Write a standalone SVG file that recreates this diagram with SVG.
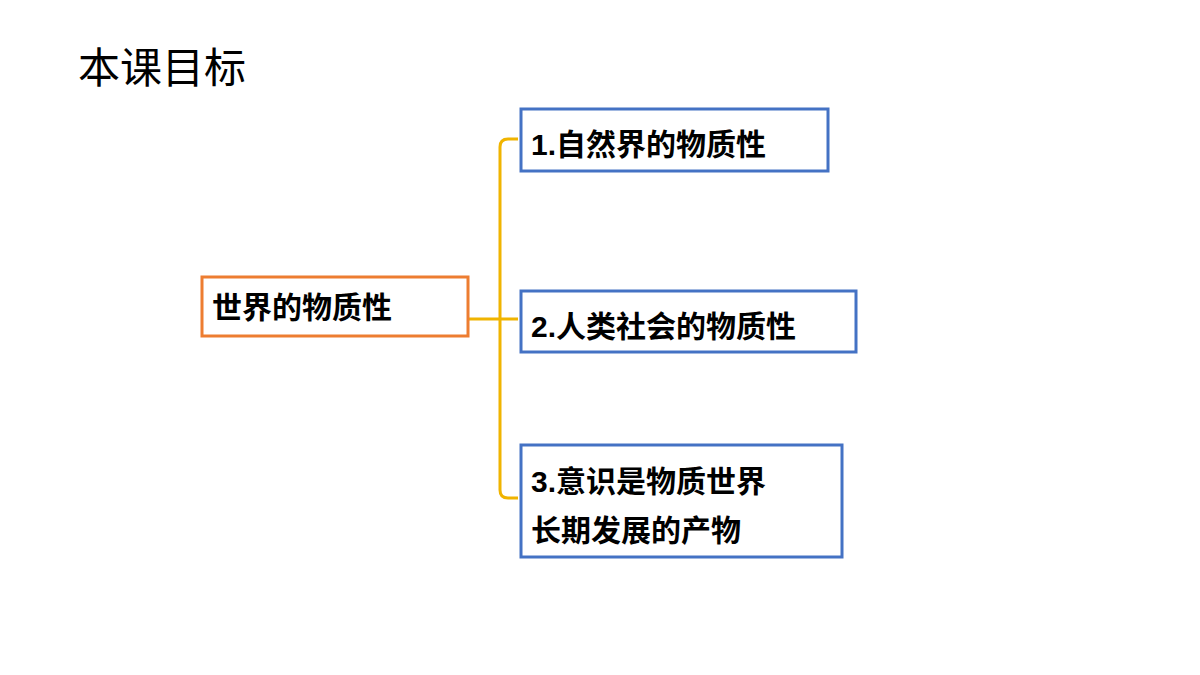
<svg xmlns="http://www.w3.org/2000/svg" width="1200" height="675" viewBox="0 0 1200 675">
<style>
.t{font-family:"Liberation Sans","Noto Sans CJK SC",sans-serif;font-weight:bold;font-size:30px;fill:#000}
.b{fill:#fff;stroke:#4472C4;stroke-width:3}
.c{fill:none;stroke:#F0B400;stroke-width:3}
</style>
<rect width="1200" height="675" fill="#fff"/>
<text x="78" y="83" style="font-family:'Liberation Sans','Noto Sans CJK SC',sans-serif;font-size:42px">本课目标</text>
<g id="connectors">
<path class="c" d="M468 319 H500 M518 139 H508 Q500 139 500 147 V490 Q500 498 508 498 H518 M500 319 H518"/>
</g>
<g id="root"><rect x="202" y="277" width="266" height="59" fill="#fff" stroke="#ED7D31" stroke-width="3"/><text class="t" x="212" y="318">世界的物质性</text></g>
<g id="n1"><rect class="b" x="521" y="109" width="307" height="62"/><text class="t" x="531" y="155">1.自然界的物质性</text></g>
<g id="n2"><rect class="b" x="521" y="291" width="335" height="61"/><text class="t" x="531" y="337">2.人类社会的物质性</text></g>
<g id="n3"><rect class="b" x="521" y="445" width="321" height="112"/><text class="t" x="531" y="492">3.意识是物质世界</text><text class="t" x="531" y="541">长期发展的产物</text></g>
</svg>
